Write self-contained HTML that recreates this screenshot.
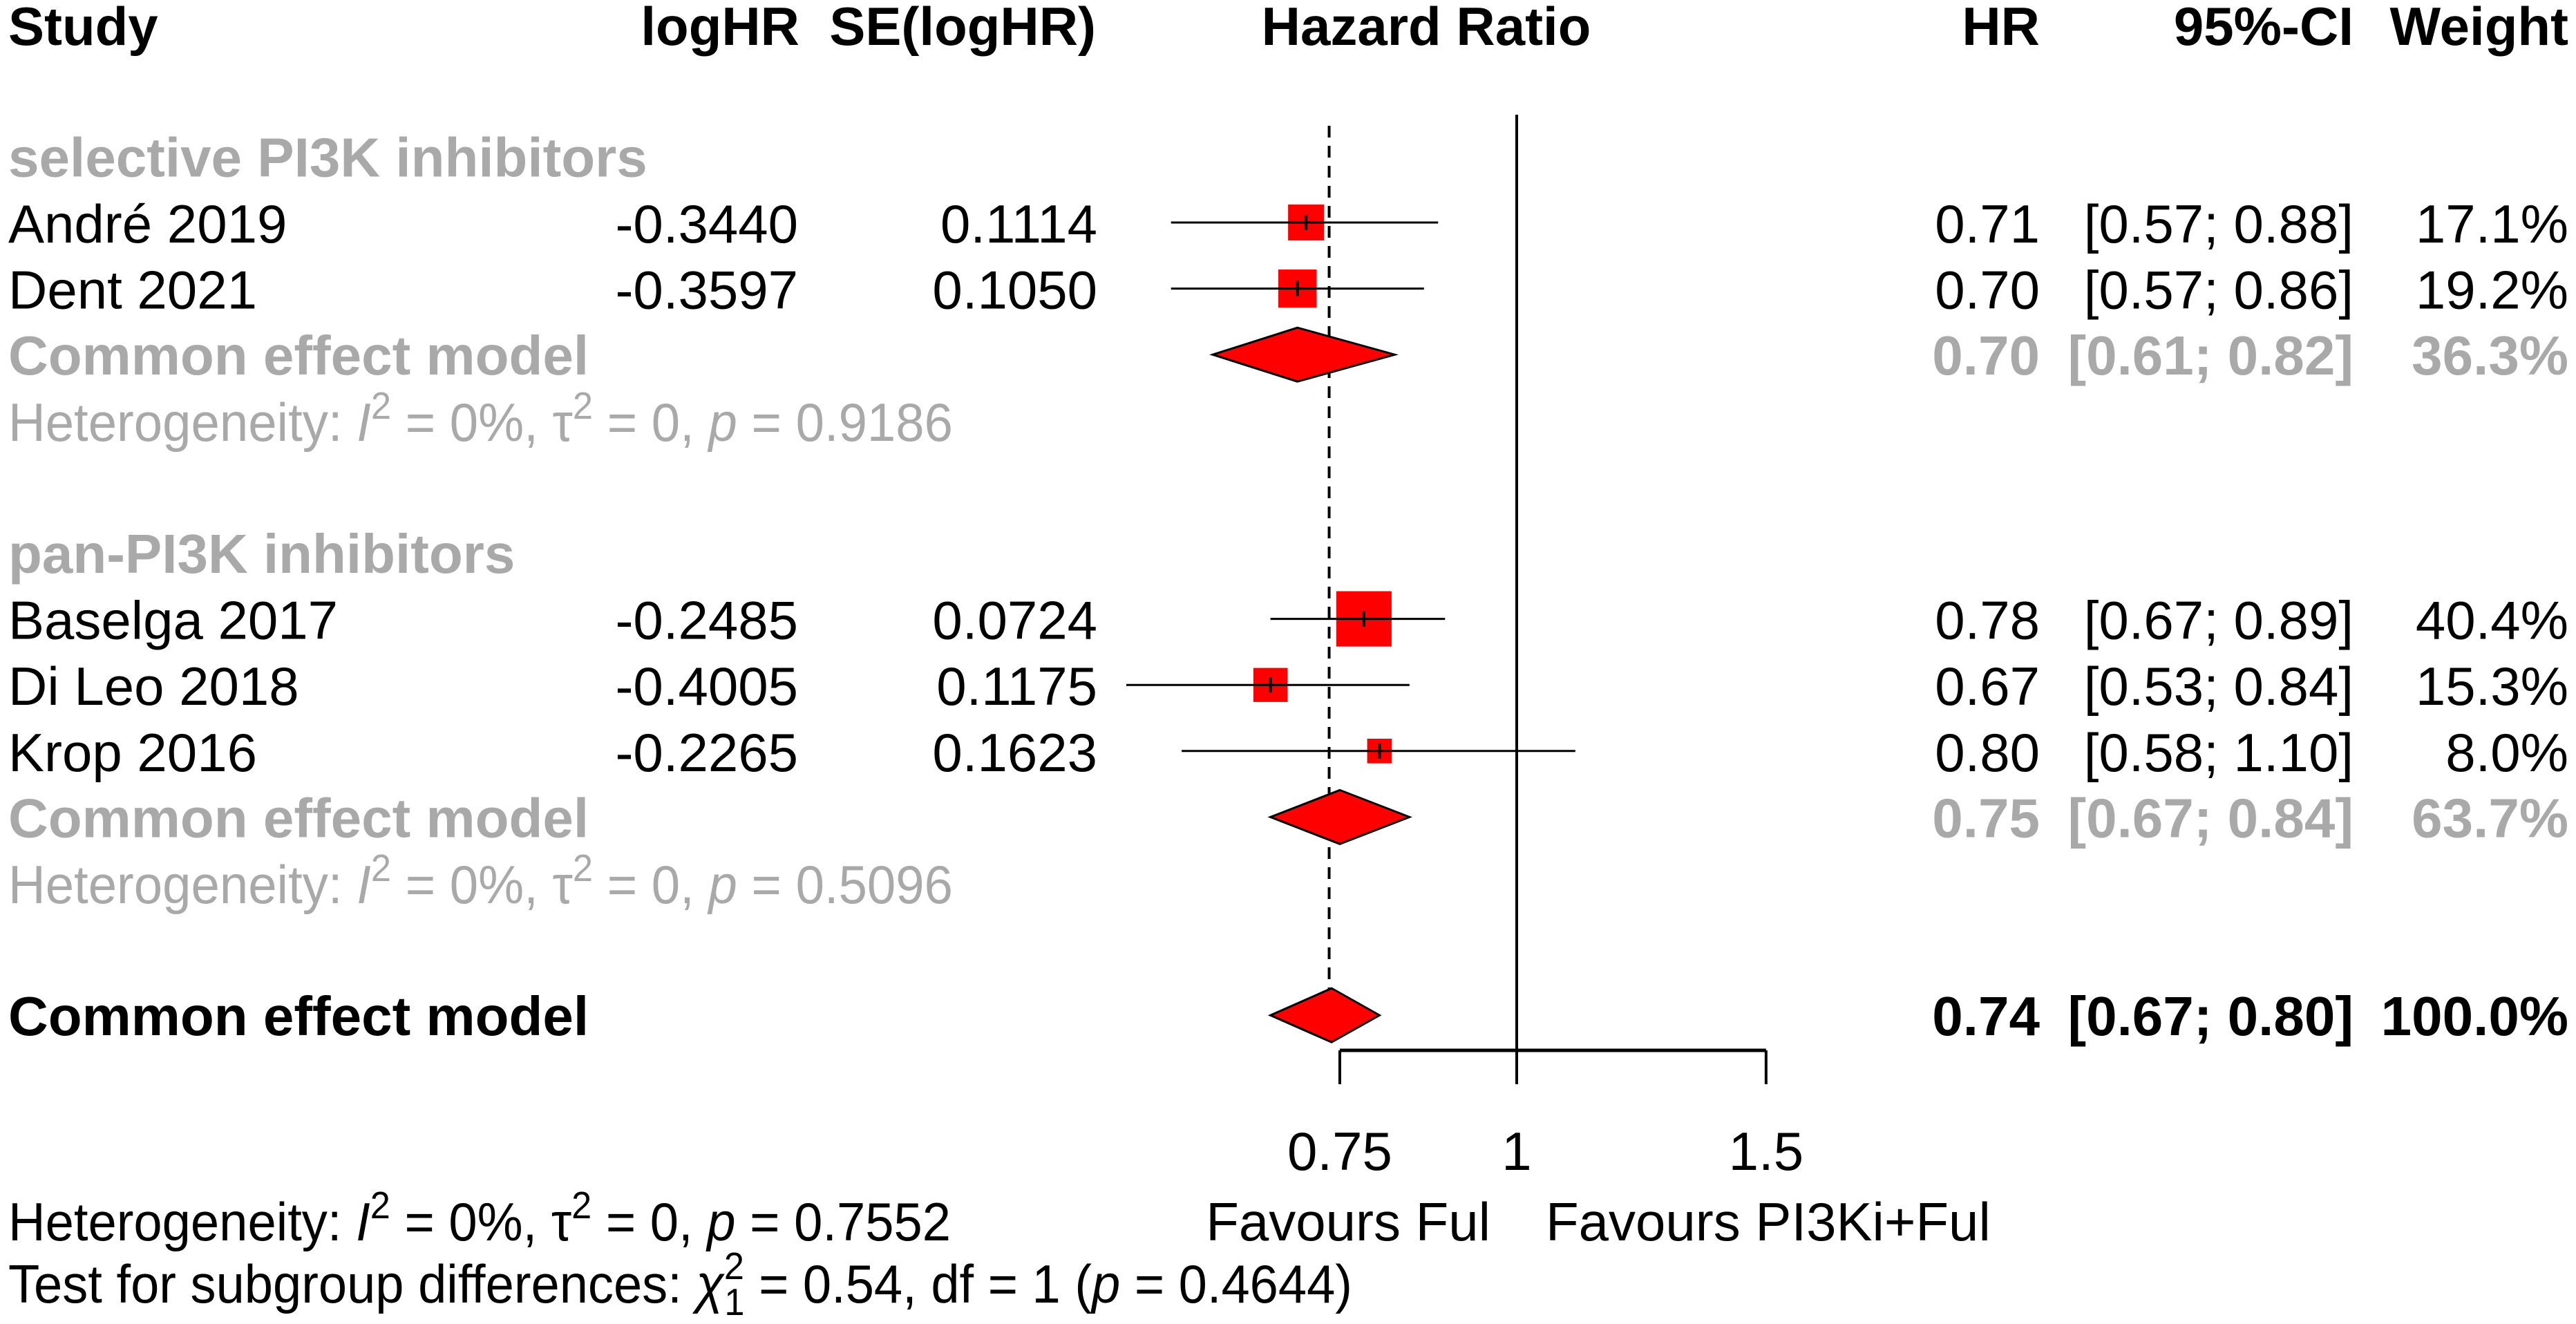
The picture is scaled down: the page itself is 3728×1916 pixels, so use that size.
<!DOCTYPE html>
<html><head><meta charset="utf-8"><style>
html,body{margin:0;padding:0;background:#fff;}
svg{display:block;font-family:"Liberation Sans",Arial,sans-serif;}
</style></head><body>
<svg id="chart" width="3728" height="1916" viewBox="0 0 3728 1916" xmlns="http://www.w3.org/2000/svg">
<g id="txt" font-size="78"></g>
<g id="marks"></g>
</svg>
<script>
const studies = ["André 2019","Dent 2021","Baselga 2017","Di Leo 2018","Krop 2016"];
const studyRows = [0,1,6,7,8];
const logHR = ["-0.3440","-0.3597","-0.2485","-0.4005","-0.2265"];
const seLogHR = ["0.1114","0.1050","0.0724","0.1175","0.1623"];
const hr = [0.71,0.70,0.78,0.67,0.80];
const lower = [0.57,0.57,0.67,0.53,0.58];
const upper = [0.88,0.86,0.89,0.84,1.10];
const weights = [17.1,19.2,40.4,15.3,8.0];
const poolRows = [2,9,12];
const poolHR = [0.70,0.75,0.74];
const poolLower = [0.61,0.67,0.67];
const poolUpper = [0.82,0.84,0.80];
const poolWeights = [36.3,63.7,100.0];
const pooledOverallLog = -0.305;
const ticks = [0.75,1,1.5];

const NS="http://www.w3.org/2000/svg";
const T=document.getElementById('txt'), M=document.getElementById('marks');
const GRAY="#a9a9a9";
function xs(v){return 2195+890*Math.log(v);}
function rowY(r){return 322+95.6*r;}
function el(tag,attrs,parent){const e=document.createElementNS(NS,tag);for(const k in attrs)e.setAttribute(k,attrs[k]);parent.appendChild(e);return e;}
function text(s,x,y,anchor,opts,name){
  const e=el('text',{x:x,y:y,'text-anchor':anchor||'start'},T);
  if(opts&&opts.bold){e.setAttribute('font-weight','bold');}
  if(opts&&opts.size)e.setAttribute('font-size',opts.size);
  e.setAttribute('fill',(opts&&opts.color)||'#000');
  e.textContent=s;
  
  
  return e;
}
const B=29;
// header
text("Study",12,65,'start',{bold:1},'study-header');
text("logHR",1157,65,'end',{bold:1},'loghr-header');
text("SE(logHR)",1586,65,'end',{bold:1},'se-header');
text("Hazard Ratio",2064,65,'middle',{bold:1},'hazard-ratio-header');
text("HR",2952,65,'end',{bold:1},'hr-header');
text("95%-CI",3406,65,'end',{bold:1},'ci-header');
text("Weight",3717,65,'end',{bold:1},'weight-header');
text("selective PI3K inhibitors",12,rowY(-1)+B,'start',{bold:1,color:GRAY,size:80},'subgroup-selective-label');
text("pan-PI3K inhibitors",12,rowY(5)+B,'start',{bold:1,color:GRAY,size:80},'subgroup-pan-label');

// reference lines
const ln1=el('line',{x1:xs(1),x2:xs(1),y1:166,y2:1569,stroke:'#000','stroke-width':4},M);


const ln2=el('line',{x1:2195+890*pooledOverallLog,x2:2195+890*pooledOverallLog,y1:182,y2:rowY(12)-38,stroke:'#000','stroke-width':4,'stroke-dasharray':'17,12'},M);



// studies
studies.forEach((s,i)=>{
  const y=rowY(studyRows[i]);
  text(s,12,y+B,'start',{},'study-name-'+i);
  text(logHR[i],1155,y+B,'end',{},'loghr-value-'+i);
  text(seLogHR[i],1588,y+B,'end',{},'se-value-'+i);
  text(hr[i].toFixed(2),2952,y+B,'end',{},'hr-value-'+i);
  text("["+lower[i].toFixed(2)+"; "+upper[i].toFixed(2)+"]",3406,y+B,'end',{},'ci-value-'+i);
  text(weights[i].toFixed(1)+"%",3717,y+B,'end',{},'weight-value-'+i);
  const side=12.6*Math.sqrt(weights[i]);
  const sq=el('rect',{x:xs(hr[i])-side/2,y:y-side/2,width:side,height:side,fill:'#ff0000'},M);
  
  
  const ci=el('line',{x1:xs(lower[i]),x2:xs(upper[i]),y1:y,y2:y,stroke:'#000','stroke-width':3},M);
  
  
  const tk=el('line',{x1:xs(hr[i]),x2:xs(hr[i]),y1:y-11,y2:y+11,stroke:'#000','stroke-width':4},M);
  
  
});

// pooled
poolRows.forEach((r,i)=>{
  const y=rowY(r);
  const last=i===2;
  const o={bold:1,color:last?'#000':GRAY,size:80};
  text("Common effect model",12,y+B,'start',o,'pooled-label-'+i);
  text(poolHR[i].toFixed(2),2952,y+B,'end',o,'pooled-hr-'+i);
  text("["+poolLower[i].toFixed(2)+"; "+poolUpper[i].toFixed(2)+"]",3406,y+B,'end',o,'pooled-ci-'+i);
  text(poolWeights[i].toFixed(1)+"%",3717,y+B,'end',o,'pooled-weight-'+i);
  const c=xs(poolHR[i]),l=xs(poolLower[i]),u=xs(poolUpper[i]),h=39;
  const d=el('polygon',{points:`${l},${y} ${c},${y-h} ${u},${y} ${c},${y+h}`,fill:'#ff0000',stroke:'#000','stroke-width':3},M);
  
  
});

// heterogeneity lines
function het(y,p,color,name,len){
  const e=el('text',{x:12,y:y,fill:color,textLength:len,lengthAdjust:'spacingAndGlyphs'},T);
  
  
  e.innerHTML=`Heterogeneity: <tspan font-style="italic">I</tspan><tspan font-size="55" dy="-32">2</tspan><tspan dy="32"> = 0%, τ</tspan><tspan font-size="55" dy="-32">2</tspan><tspan dy="32"> = 0, </tspan><tspan font-style="italic">p</tspan> = ${p}`;
}
het(rowY(3)+B,"0.9186",GRAY,'heterogeneity-selective',1367);
het(rowY(10)+B,"0.5096",GRAY,'heterogeneity-pan',1367);
het(1795,"0.7552","#000",'heterogeneity-overall',1364);
const tsd=el('text',{x:12,y:1885,fill:'#000',textLength:1945,lengthAdjust:'spacingAndGlyphs'},T);


tsd.innerHTML=`Test for subgroup differences: <tspan font-style="italic">χ</tspan><tspan font-size="55" dy="-34">2</tspan><tspan font-size="55" dx="-30" dy="52">1</tspan><tspan dy="-18"> = 0.54, df = 1 (</tspan><tspan font-style="italic">p</tspan> = 0.4644)`;

// axis
const ax=el('line',{x1:xs(ticks[0]),x2:xs(ticks[ticks.length-1]),y1:1520,y2:1520,stroke:'#000','stroke-width':5},M);


ticks.forEach((t,i)=>{
  const tl=el('line',{x1:xs(t),x2:xs(t),y1:1520,y2:1569,stroke:'#000','stroke-width':4},M);
  
  
  text(String(t),xs(t),1693,'middle',{},'x-tick-label-'+i);
});
text("Favours Ful",2157,1795,'end',{},'favours-left-label');
text("Favours PI3Ki+Ful",2237,1795,'start',{},'favours-right-label');
</script>
</body></html>
